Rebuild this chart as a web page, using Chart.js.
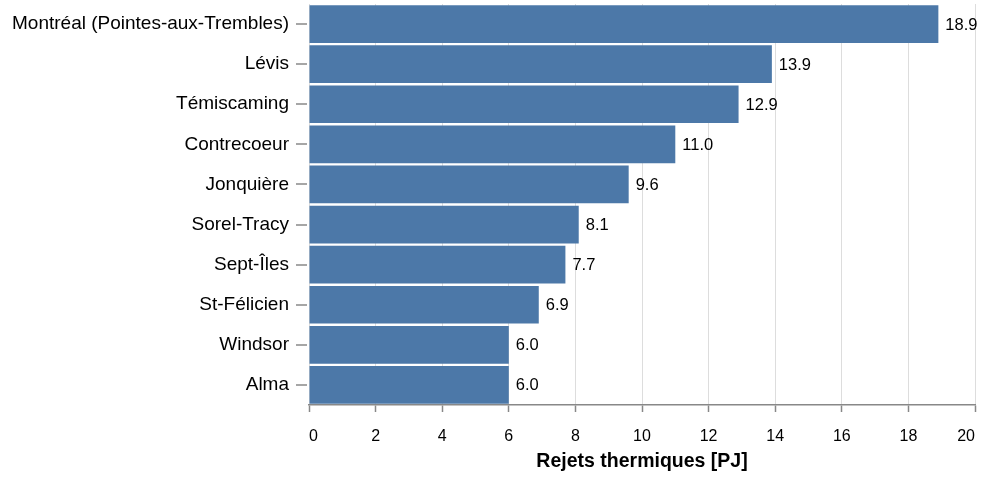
<!DOCTYPE html>
<html>
<head>
<meta charset="utf-8">
<script src="https://cdn.jsdelivr.net/npm/chart.js@4/dist/chart.umd.min.js"></script>
<style>
  html, body { margin: 0; padding: 0; background: #fff; }
  #wrap { width: 986px; height: 478px; position: relative; }
</style>
</head>
<body>
<div id="wrap"><canvas id="myChart" width="986" height="478"></canvas></div>
<script>
// Données du graphique
const villes = ['Montréal (Pointes-aux-Trembles)', 'Lévis', 'Témiscaming', 'Contrecoeur', 'Jonquière',
    'Sorel-Tracy', 'Sept-Îles', 'St-Félicien', 'Windsor', 'Alma'];
const rejets = [18.9, 13.9, 12.9, 11.0, 9.6, 8.1, 7.7, 6.9, 6.0, 6.0];
const ticksX = [0, 2, 4, 6, 8, 10, 12, 14, 16, 18, 20];

const police = "'Liberation Sans', Arial, Helvetica, sans-serif";

// Étiquettes de valeur et petits traits de l'axe y
const etiquettes = {
    id: 'etiquettes',
    afterDatasetsDraw(chart) {
        const ctx = chart.ctx;
        const meta = chart.getDatasetMeta(0);
        const yScale = chart.scales.y;
        ctx.save();
        ctx.font = '16.5px ' + police;
        ctx.fillStyle = '#000';
        ctx.textAlign = 'left';
        ctx.textBaseline = 'middle';
        meta.data.forEach(function(bar, i) {
            ctx.fillText(rejets[i].toFixed(1), bar.x + 7, bar.y + 1);
        });
        // traits de l'axe y
        ctx.strokeStyle = '#888';
        ctx.lineWidth = 1.5;
        villes.forEach(function(v, i) {
            const y = Math.round(yScale.getPixelForValue(i));
            ctx.beginPath();
            ctx.moveTo(296, y);
            ctx.lineTo(307, y);
            ctx.stroke();
        });
        ctx.restore();
    }
};

function sansMarge(axis) {
    axis.paddingLeft = 0;
    axis.paddingRight = 0;
    axis.paddingTop = 0;
    axis.paddingBottom = 0;
}

const ctx = document.getElementById('myChart').getContext('2d');
new Chart(ctx, {
    type: 'bar',
    data: {
        labels: villes,
        datasets: [{
            data: rejets,
            backgroundColor: '#4c78a8',
            borderWidth: 0,
            barPercentage: 0.94,
            categoryPercentage: 1.0
        }]
    },
    options: {
        indexAxis: 'y',
        responsive: false,
        animation: false,
        layout: { padding: { top: 4, right: 11, left: 0, bottom: 0 } },
        plugins: {
            legend: { display: false },
            tooltip: { enabled: false }
        },
        scales: {
            x: {
                min: 0,
                max: 20,
                afterBuildTicks: function(axis) {
                    axis.ticks = ticksX.map(function(v) { return { value: v }; });
                },
                afterFit: function(axis) { axis.height = 73; sansMarge(axis); },
                grid: {
                    color: '#dddddd',
                    lineWidth: 1,
                    drawTicks: true,
                    tickLength: 7,
                    tickColor: '#888',
                    tickWidth: 1.5
                },
                border: { display: true, color: '#888', width: 1.5 },
                ticks: {
                    color: '#000',
                    font: { family: police, size: 16 },
                    padding: 15,
                    align: 'inner',
                    maxRotation: 0
                },
                title: {
                    display: true,
                    text: 'Rejets thermiques [PJ]',
                    color: '#000',
                    font: { family: police, size: 19.5, weight: 'bold' },
                    padding: { top: 4, bottom: 5 }
                }
            },
            y: {
                afterFit: function(axis) { axis.width = 309; sansMarge(axis); },
                grid: { display: false, drawTicks: false },
                border: { display: false },
                ticks: {
                    color: '#000',
                    font: { family: police, size: 19 },
                    padding: 20
                }
            }
        }
    },
    plugins: [etiquettes]
});
</script>
</body>
</html>
